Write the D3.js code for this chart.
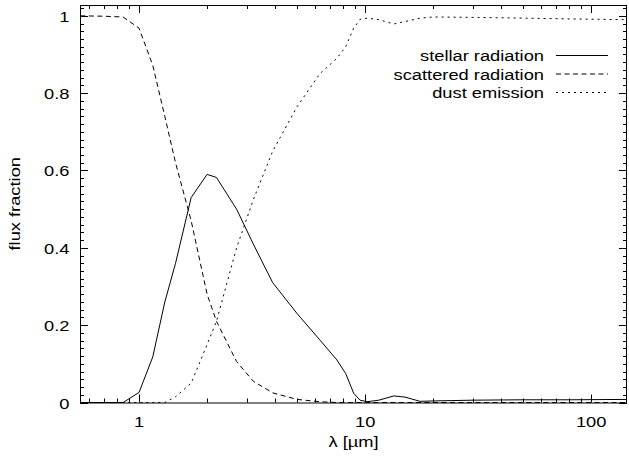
<!DOCTYPE html>
<html>
<head>
<meta charset="utf-8">
<script src="https://cdn.jsdelivr.net/npm/d3@7"></script>
<style>
  body { margin: 0; background: #fff; }
  text { font-family: "Liberation Sans", Arial, sans-serif; font-size: 15px; fill: #000; }
</style>
</head>
<body>
<div id="chart"></div>
<script>
// Data
const wavelength = [0.55, 0.7, 0.85, 1.0, 1.15, 1.3, 1.45, 1.7, 2.0, 2.2, 2.7, 3.2, 3.9, 5.0, 6.3, 7.5, 8.2, 8.9, 9.5, 10.2, 11.5, 13.4, 15, 17.5, 20, 30, 50, 80, 144];
const stellar   = [0, 0, 0, 0.026, 0.118, 0.26, 0.36, 0.53, 0.59, 0.582, 0.50, 0.41, 0.31, 0.23, 0.162, 0.11, 0.075, 0.024, 0.006, 0.002, 0.006, 0.017, 0.014, 0.003, 0.004, 0.006, 0.007, 0.007, 0.008];
const scattered = [1.0, 0.999, 0.997, 0.968, 0.872, 0.74, 0.62, 0.47, 0.28, 0.21, 0.106, 0.055, 0.025, 0.008, 0.002, 0, 0, 0, 0, 0, 0, 0, 0, 0, 0, 0, 0, 0, 0];
const dust      = [0, 0, 0, 0, 0, 0, 0.015, 0.05, 0.15, 0.21, 0.40, 0.524, 0.65, 0.765, 0.85, 0.89, 0.92, 0.968, 0.991, 0.994, 0.99, 0.979, 0.985, 0.994, 0.997, 0.996, 0.994, 0.992, 0.99];

const seriesNames = ["stellar radiation", "scattered radiation", "dust emission"];
const seriesValues = [stellar, scattered, dust];
const seriesDash = [null, "5,3.5", "2,4"];

const xTicks = [1, 10, 100];
const yTicks = [0, 0.2, 0.4, 0.6, 0.8, 1];

// Layout
const W = 629, H = 464;
const margin = { top: 5, right: 2, bottom: 61.5, left: 80 };
const stretch = 1.22; // glyphs in the picture are wider than Liberation Sans

const svg = d3.select("#chart").append("svg")
  .attr("width", W).attr("height", H);

const x = d3.scaleLog()
  .domain([0.548, 144])
  .range([margin.left, W - margin.right]);
const y = d3.scaleLinear()
  .domain([0, 1.028])
  .range([H - margin.bottom, margin.top]);

const x0 = x.range()[0], x1 = x.range()[1];
const y0 = y.range()[0], y1 = y.range()[1];

// place a text with a horizontal stretch, optional rotation
function label(tx, ty, str, anchor, rot) {
  return svg.append("text")
    .attr("transform", `translate(${tx},${ty})` + (rot ? ` rotate(${rot})` : "") + ` scale(${stretch},1)`)
    .attr("text-anchor", anchor)
    .text(str);
}

// Ticks (inward, mirrored on all sides)
const major = 8, minor = 4;
const tickG = svg.append("g").attr("stroke", "#000").attr("stroke-width", 1);

const xMinor = [];
for (let dec = 0.1; dec <= 100; dec *= 10) {
  for (let k = 2; k <= 9; k++) {
    const v = +(k * dec).toPrecision(3);
    if (v >= x.domain()[0] && v <= x.domain()[1]) xMinor.push(v);
  }
}
xMinor.forEach(v => {
  const px = Math.round(x(v)) + 0.5;
  tickG.append("line").attr("x1", px).attr("x2", px).attr("y1", y0).attr("y2", y0 - minor);
  tickG.append("line").attr("x1", px).attr("x2", px).attr("y1", y1).attr("y2", y1 + minor);
});
xTicks.forEach(v => {
  const px = Math.round(x(v)) + 0.5;
  tickG.append("line").attr("x1", px).attr("x2", px).attr("y1", y0).attr("y2", y0 - major);
  tickG.append("line").attr("x1", px).attr("x2", px).attr("y1", y1).attr("y2", y1 + major);
});

const yMinor = d3.range(1, 52).map(i => i * 0.02).filter(v => Math.abs(v * 5 - Math.round(v * 5)) > 1e-6 && v <= 1.028);
yMinor.forEach(v => {
  const py = Math.round(y(v)) + 0.5;
  tickG.append("line").attr("x1", x0).attr("x2", x0 + minor).attr("y1", py).attr("y2", py);
  tickG.append("line").attr("x1", x1).attr("x2", x1 - minor).attr("y1", py).attr("y2", py);
});
yTicks.forEach(v => {
  const py = Math.round(y(v)) + 0.5;
  tickG.append("line").attr("x1", x0).attr("x2", x0 + major).attr("y1", py).attr("y2", py);
  tickG.append("line").attr("x1", x1).attr("x2", x1 - major).attr("y1", py).attr("y2", py);
});

// Tick labels
xTicks.forEach(v => label(x(v), y0 + 24.5, v, "middle"));
yTicks.forEach(v => label(x0 - 10.5, y(v) + 6, v, "end"));

// Curves
const line = d3.line()
  .x((d, i) => x(wavelength[i]))
  .y(d => y(d));

seriesValues.forEach((vals, k) => {
  svg.append("path")
    .datum(vals)
    .attr("fill", "none")
    .attr("stroke", "#000")
    .attr("stroke-width", 1)
    .attr("stroke-dasharray", seriesDash[k])
    .attr("d", line);
});

// Frame
svg.append("rect")
  .attr("x", x0 + 0.5).attr("y", y1 + 0.5)
  .attr("width", x1 - x0 - 1).attr("height", y0 - y1)
  .attr("fill", "none").attr("stroke", "#000").attr("stroke-width", 1);

// Legend
const legendRows = [55.5, 74, 92.5];
seriesNames.forEach((name, k) => {
  label(544, legendRows[k] + 5.7, name, "end");
  svg.append("line")
    .attr("x1", 556).attr("x2", 608)
    .attr("y1", legendRows[k]).attr("y2", legendRows[k])
    .attr("stroke", "#000").attr("stroke-width", 1)
    .attr("stroke-dasharray", seriesDash[k]);
});

// Axis titles
label(20, (y0 + y1) / 2, "flux fraction", "middle", -90);
label((x0 + x1) / 2, 447, "λ [µm]", "middle");
</script>
</body>
</html>
